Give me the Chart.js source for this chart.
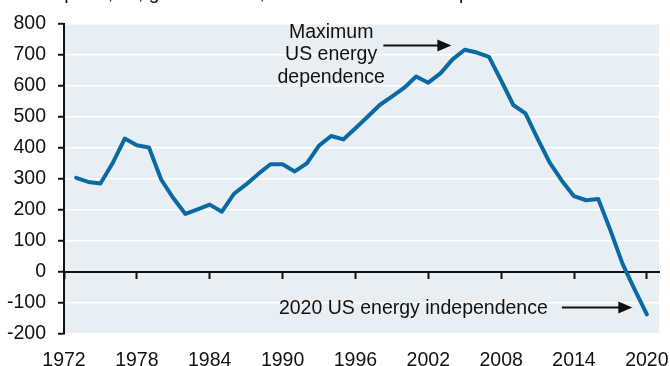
<!DOCTYPE html>
<html>
<head>
<meta charset="utf-8">
<script src="https://cdn.jsdelivr.net/npm/chart.js@4"></script>
<style>
  html, body { margin: 0; padding: 0; background: #fff; }
  #wrap { position: relative; width: 670px; height: 366px; }
</style>
</head>
<body>
<div id="wrap"><canvas id="energyChart" width="670" height="366"></canvas></div>
<script>
const years = [
    1973, 1974, 1975, 1976, 1977, 1978, 1979, 1980, 1981, 1982,
    1983, 1984, 1985, 1986, 1987, 1988, 1989, 1990, 1991, 1992,
    1993, 1994, 1995, 1996, 1997, 1998, 1999, 2000, 2001, 2002,
    2003, 2004, 2005, 2006, 2007, 2008, 2009, 2010, 2011, 2012,
    2013, 2014, 2015, 2016, 2017, 2018, 2019, 2020
];
const netImports = [
    303, 290, 285, 350, 430, 408, 401, 298, 238, 187,
    202, 217, 194, 252, 282, 316, 347, 347, 324, 350,
    407, 438, 427, 463, 500, 538, 565, 593, 630, 610,
    640, 685, 716, 707, 693, 617, 538, 511, 430, 352,
    294, 244, 231, 235, 134, 26, -57, -137
];
const yearTicks = [1972, 1978, 1984, 1990, 1996, 2002, 2008, 2014, 2020];
const valueTicks = [-200, -100, 0, 100, 200, 300, 400, 500, 600, 700, 800];

const headline = 'Net imports, oil, gas and coal, million tonnes of oil equivalent';
const peakNote = ['Maximum', 'US energy', 'dependence'];
const endNote = '2020 US energy independence';

const FONT = '"Liberation Sans", Arial, sans-serif';
const FONT_SIZE = 19.5;
const INK = '#111111';
const LINE_BLUE = '#0b69a3';
const PANEL = '#e8eff4';

function setTicks(list) {
    return scale => { scale.ticks = list.map(v => ({ value: v })); };
}

function arrow(ctx, x1, y, x2) {
    ctx.beginPath();
    ctx.moveTo(x1, y);
    ctx.lineTo(x2 - 10, y);
    ctx.stroke();
    ctx.beginPath();
    ctx.moveTo(x2, y);
    ctx.lineTo(x2 - 14, y - 6);
    ctx.lineTo(x2 - 14, y + 6);
    ctx.closePath();
    ctx.fill();
}

// light panel behind the plot area
const panelBg = {
    id: 'panelBg',
    beforeDraw(chart) {
        const { ctx, chartArea: a } = chart;
        ctx.save();
        ctx.fillStyle = PANEL;
        ctx.fillRect(a.left, a.top, a.right - a.left, a.bottom - a.top);
        ctx.restore();
    }
};

// headline and the two arrow notes
const notes = {
    id: 'notes',
    afterDraw(chart) {
        const { ctx } = chart;
        const x = chart.scales.x, y = chart.scales.y;
        ctx.save();
        ctx.fillStyle = INK;
        ctx.strokeStyle = INK;
        ctx.lineWidth = 2;
        ctx.font = FONT_SIZE + 'px ' + FONT;

        ctx.textAlign = 'left';
        ctx.textBaseline = 'alphabetic';
        ctx.fillText(headline, 8, -1.5);

        ctx.textAlign = 'center';
        ctx.textBaseline = 'middle';
        const cx = x.getPixelForValue(1994);
        [770, 701, 627].forEach((v, i) => ctx.fillText(peakNote[i], cx, y.getPixelForValue(v)));
        arrow(ctx, x.getPixelForValue(1998.3), y.getPixelForValue(730), x.getPixelForValue(2003.9));

        ctx.textAlign = 'left';
        ctx.fillText(endNote, x.getPixelForValue(1989.7), y.getPixelForValue(-117));
        arrow(ctx, x.getPixelForValue(2013), y.getPixelForValue(-115), x.getPixelForValue(2018.8));
        ctx.restore();
    }
};

new Chart(document.getElementById('energyChart'), {
    type: 'line',
    data: {
        datasets: [{
            data: years.map((yr, i) => ({ x: yr, y: netImports[i] })),
            borderColor: LINE_BLUE,
            borderWidth: 4,
            borderJoinStyle: 'round',
            borderCapStyle: 'round',
            pointRadius: 0,
            tension: 0,
            fill: false
        }]
    },
    options: {
        responsive: false,
        animation: false,
        layout: { padding: { top: 22, right: 11, left: 0, bottom: 0 } },
        plugins: { legend: { display: false }, tooltip: { enabled: false } },
        scales: {
            x: {
                type: 'linear',
                min: 1972,
                max: 2021,
                afterBuildTicks: setTicks(yearTicks),
                afterFit: s => { s.height = 32; s.paddingLeft = 0; s.paddingRight = 0; },
                grid: { display: false, drawTicks: false },
                border: { display: false },
                ticks: {
                    color: INK,
                    font: { family: FONT, size: FONT_SIZE },
                    padding: 15,
                    maxRotation: 0,
                    autoSkip: false,
                    callback: v => String(v)
                }
            },
            // axis line drawn along zero, with tick marks only
            x2: {
                type: 'linear',
                position: { y: 0 },
                min: 1972,
                max: 2021,
                afterBuildTicks: setTicks(yearTicks),
                grid: {
                    drawOnChartArea: false,
                    drawTicks: true,
                    tickLength: 6,
                    tickWidth: 2,
                    tickColor: INK
                },
                border: { display: true, color: INK, width: 2 },
                ticks: { display: false }
            },
            y: {
                min: -200,
                max: 800,
                afterBuildTicks: setTicks(valueTicks),
                afterFit: s => { s.width = 64; },
                grid: {
                    color: ctx => (ctx.tick && ctx.tick.value === 0) ? 'rgba(0,0,0,0)' : '#ffffff',
                    lineWidth: 1.5,
                    tickLength: 6,
                    tickWidth: 2,
                    tickColor: INK
                },
                border: { display: true, color: INK, width: 2 },
                ticks: {
                    color: INK,
                    font: { family: FONT, size: FONT_SIZE },
                    padding: 12,
                    callback: v => (v < 0 ? '-' + Math.abs(v) : String(v))
                }
            }
        }
    },
    plugins: [panelBg, notes]
});
</script>
</body>
</html>
